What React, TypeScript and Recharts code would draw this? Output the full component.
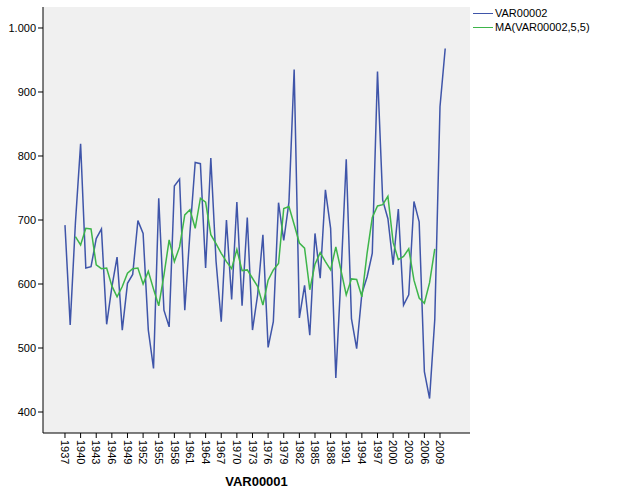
import React from 'react';
import { LineChart, Line, XAxis, YAxis, CartesianGrid } from 'recharts';

const years: number[] = [];
for (let y = 1937; y <= 2010; y++) years.push(y);

const var00002: number[] = [
  692, 536, 695, 819, 625, 627, 671, 686, 537, 595,
  642, 528, 601, 615, 699, 679, 528, 468, 734, 559,
  533, 753, 764, 559, 681, 790, 788, 625, 797, 636,
  541, 700, 576, 728, 566, 704, 528, 584, 677, 501,
  541, 727, 668, 728, 935, 547, 598, 520, 679, 609,
  747, 687, 453, 614, 795, 546, 499, 585, 611, 648,
  932, 731, 702, 630, 717, 567, 583, 729, 697, 463,
  421, 545, 877, 968,
];

const maVar00002: (number | null)[] = [
  null, null, 674, 661, 687, 686, 630, 624, 625, 597,
  580, 596, 617, 624, 625, 600, 620, 592, 566, 614,
  669, 635, 658, 708, 716, 687, 734, 728, 677, 663,
  648, 635, 624, 654, 621, 622, 609, 596, 567, 606,
  622, 632, 718, 721, 693, 664, 656, 591, 631, 649,
  635, 622, 658, 621, 583, 608, 607, 580, 648, 704,
  722, 724, 737, 665, 638, 643, 655, 606, 578, 570,
  602, 655, null, null,
];

const xTicks: number[] = [1937, 1940, 1943, 1946, 1949, 1952, 1955, 1958, 1961, 1964, 1967, 1970, 1973, 1976, 1979, 1982, 1985, 1988, 1991, 1994, 1997, 2000, 2003, 2006, 2009];
const yTicks: number[] = [400, 500, 600, 700, 800, 900, 1000];

const data = years.map((year, i) => ({ year, v: var00002[i], ma: maVar00002[i] }));

const FONT = '"Liberation Sans", Arial, sans-serif';
const BLUE = '#3F55A9';
const GREEN = '#3DB54A';

const XTick = (props: any) => {
  const { x, y, payload } = props;
  return (
    <text
      x={x}
      y={y}
      dy="0.35em"
      textAnchor="start"
      transform={`rotate(90, ${x}, ${y})`}
      fontSize={11}
      fontFamily={FONT}
      fill="#000"
    >
      {payload.value}
    </text>
  );
};

export default function App() {
  return (
    <div style={{ position: 'absolute', left: 0, top: 0, width: 629, height: 504, background: '#fff' }}>
      <LineChart width={629} height={504} data={data} margin={{ top: 7, right: 159, bottom: 0, left: 0 }}>
        <CartesianGrid fill="#F0F0F0" stroke="none" horizontal={false} vertical={false} />
        <XAxis
          dataKey="year"
          type="number"
          domain={[1932.78, 2014.76]}
          allowDataOverflow
          ticks={xTicks}
          interval={0}
          height={71}
          tickSize={5}
          tickMargin={2}
          tick={<XTick />}
          axisLine={{ stroke: '#000', strokeWidth: 1 }}
          tickLine={{ stroke: '#000' }}
          label={{
            content: (p: any) => {
              const vb = p.viewBox || { x: 43, y: 433, width: 427, height: 71 };
              return (
                <text
                  x={vb.x + vb.width / 2}
                  y={vb.y + 53}
                  textAnchor="middle"
                  fontSize={13}
                  fontWeight="bold"
                  fontFamily={FONT}
                  fill="#000"
                >
                  VAR00001
                </text>
              );
            },
          }}
        />
        <XAxis
          xAxisId="top"
          orientation="top"
          dataKey="year"
          type="number"
          domain={[1932.78, 2014.76]}
          allowDataOverflow
          height={0}
          tick={false}
          tickLine={false}
          axisLine={{ stroke: '#808080', strokeWidth: 2 }}
        />
        <YAxis
          type="number"
          domain={[367.2, 1032.8]}
          allowDataOverflow
          ticks={yTicks}
          interval={0}
          width={43}
          tickSize={5}
          tickMargin={2}
          tickFormatter={(v: number) => (v === 1000 ? '1.000' : String(v))}
          tick={{ fontSize: 11, fontFamily: FONT, fill: '#000' }}
          axisLine={{ stroke: '#000', strokeWidth: 1 }}
          tickLine={{ stroke: '#000' }}
        />
        <YAxis
          yAxisId="right"
          orientation="right"
          type="number"
          domain={[367.2, 1032.8]}
          width={0}
          tick={false}
          tickLine={false}
          axisLine={{ stroke: '#555', strokeWidth: 1 }}
        />
        <Line
          type="linear"
          dataKey="v"
          stroke={BLUE}
          strokeWidth={1.5}
          dot={false}
          activeDot={false}
          isAnimationActive={false}
        />
        <Line
          type="linear"
          dataKey="ma"
          stroke={GREEN}
          strokeWidth={1.5}
          dot={false}
          activeDot={false}
          connectNulls={false}
          isAnimationActive={false}
        />
      </LineChart>
      <div style={{ position: 'absolute', left: 473, top: 6, fontFamily: FONT, fontSize: 11, color: '#000', lineHeight: '14px' }}>
        <div style={{ display: 'flex', alignItems: 'center', height: 14 }}>
          <div style={{ width: 20, height: 0, borderTop: `1.5px solid ${BLUE}`, marginRight: 2 }} />
          <span>VAR00002</span>
        </div>
        <div style={{ display: 'flex', alignItems: 'center', height: 14 }}>
          <div style={{ width: 20, height: 0, borderTop: `1.5px solid ${GREEN}`, marginRight: 2 }} />
          <span>MA(VAR00002,5,5)</span>
        </div>
      </div>
    </div>
  );
}
